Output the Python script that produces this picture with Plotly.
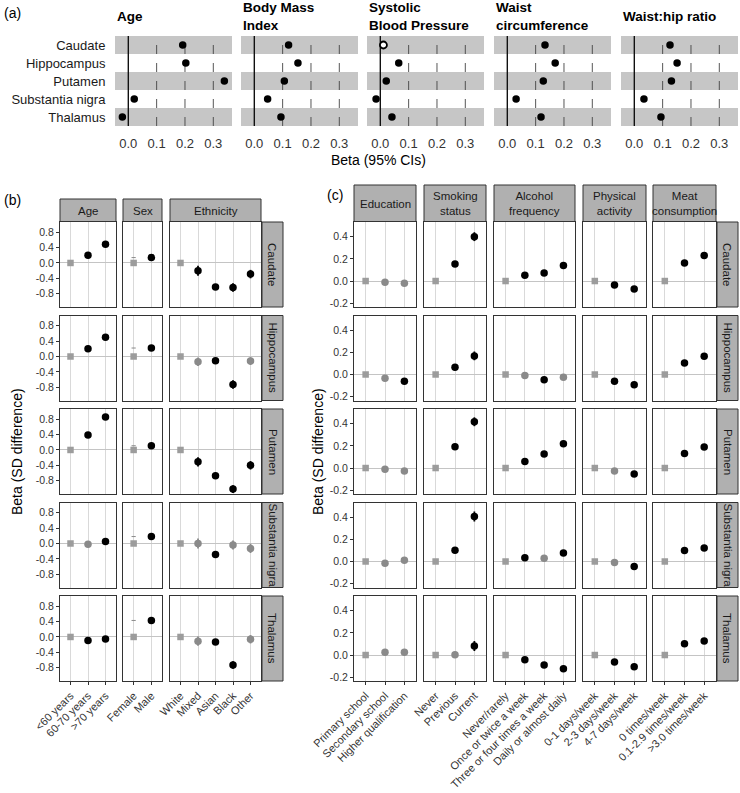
import plotly.graph_objects as go

W, H = 740, 793
FONT = "Liberation Sans, Arial, Helvetica, sans-serif"

# ---------------- data ----------------
regions = ["Caudate", "Hippocampus", "Putamen", "Substantia nigra", "Thalamus"]

# panel (a)
a_titles = ["Age", "Body Mass<br>Index", "Systolic<br>Blood Pressure", "Waist<br>circumference", "Waist:hip ratio"]
a_age = [0.192, 0.203, 0.339, 0.021, -0.021]
a_bmi = [0.121, 0.154, 0.106, 0.047, 0.094]
a_sbp = [0.011, 0.065, 0.021, -0.015, 0.041]
a_waist = [0.133, 0.169, 0.127, 0.031, 0.119]
a_whr = [0.126, 0.151, 0.131, 0.034, 0.094]
a_age_sig = [1, 1, 1, 1, 1]
a_bmi_sig = [1, 1, 1, 1, 1]
a_sbp_sig = [0, 1, 1, 1, 1]
a_waist_sig = [1, 1, 1, 1, 1]
a_whr_sig = [1, 1, 1, 1, 1]
a_ticks = [0.0, 0.1, 0.2, 0.3]
a_ticklabels = ["0.0", "0.1", "0.2", "0.3"]

# panel (b)
b_groups = ["Age", "Sex", "Ethnicity"]
b_age_levels = ["<60 years", "60-70 years", ">70 years"]
b_age_beta = [[0, 0.20, 0.49], [0, 0.20, 0.50], [0, 0.39, 0.86], [0, -0.02, 0.05], [0, -0.09, -0.05]]
b_age_ci = [[0, 0.03, 0.03], [0, 0.03, 0.03], [0, 0.03, 0.03], [0, 0.03, 0.03], [0, 0.03, 0.03]]
b_age_sig = [[0, 1, 1], [0, 1, 1], [0, 1, 1], [0, 0, 1], [0, 1, 1]]
b_sex_levels = ["Female", "Male"]
b_sex_beta = [[0, 0.14], [0, 0.22], [0, 0.11], [0, 0.18], [0, 0.43]]
b_sex_ci = [[0, 0.02], [0, 0.02], [0, 0.02], [0, 0.02], [0, 0.02]]
b_sex_sig = [[0, 1], [0, 1], [0, 1], [0, 1], [0, 1]]
b_eth_levels = ["White", "Mixed", "Asian", "Black", "Other"]
b_eth_beta = [[0, -0.20, -0.625, -0.64, -0.29],
              [0, -0.14, -0.11, -0.73, -0.12],
              [0, -0.31, -0.67, -1.02, -0.40],
              [0, 0.00, -0.29, -0.04, -0.13],
              [0, -0.11, -0.13, -0.73, -0.06]]
b_eth_ci = [[0, 0.13, 0.05, 0.11, 0.11],
            [0, 0.11, 0.05, 0.11, 0.10],
            [0, 0.12, 0.05, 0.10, 0.11],
            [0, 0.13, 0.05, 0.12, 0.12],
            [0, 0.12, 0.05, 0.10, 0.11]]
b_eth_sig = [[0, 1, 1, 1, 1], [0, 0, 1, 1, 0], [0, 1, 1, 1, 1], [0, 0, 1, 0, 0], [0, 0, 1, 1, 0]]
b_yticks = [-0.8, -0.4, 0.0, 0.4, 0.8]
b_yticklabels = ["-0.8", "-0.4", "0.0", "0.4", "0.8"]

# panel (c)
c_groups = ["Education", "Smoking<br>status", "Alcohol<br>frequency", "Physical<br>activity", "Meat<br>consumption"]
c_edu_levels = ["Primary school", "Secondary school", "Higher qualification"]
c_edu_beta = [[0, -0.010, -0.020], [0, -0.033, -0.060], [0, -0.012, -0.027], [0, -0.015, 0.012], [0, 0.024, 0.024]]
c_edu_ci = [[0, 0.025, 0.025], [0, 0.025, 0.025], [0, 0.02, 0.02], [0, 0.025, 0.025], [0, 0.025, 0.025]]
c_edu_sig = [[0, 0, 0], [0, 0, 1], [0, 0, 0], [0, 0, 0], [0, 0, 0]]
c_smk_levels = ["Never", "Previous", "Current"]
c_smk_beta = [[0, 0.153, 0.400], [0, 0.066, 0.168], [0, 0.192, 0.417], [0, 0.102, 0.405], [0, 0.003, 0.081]]
c_smk_ci = [[0, 0.01, 0.04], [0, 0.01, 0.04], [0, 0.01, 0.04], [0, 0.01, 0.045], [0, 0.01, 0.045]]
c_smk_sig = [[0, 1, 1], [0, 1, 1], [0, 1, 1], [0, 1, 1], [0, 0, 1]]
c_alc_levels = ["Never/rarely", "Once or twice a week", "Three or four times a week", "Daily or almost daily"]
c_alc_beta = [[0, 0.051, 0.072, 0.141], [0, -0.009, -0.048, -0.024], [0, 0.060, 0.126, 0.219],
              [0, 0.033, 0.030, 0.078], [0, -0.042, -0.090, -0.123]]
c_alc_ci = [[0, 0.01, 0.01, 0.015], [0, 0.01, 0.01, 0.015], [0, 0.01, 0.01, 0.015],
            [0, 0.01, 0.01, 0.015], [0, 0.01, 0.01, 0.015]]
c_alc_sig = [[0, 1, 1, 1], [0, 0, 1, 0], [0, 1, 1, 1], [0, 1, 0, 1], [0, 1, 1, 1]]
c_pa_levels = ["0-1 days/week", "2-3 days/week", "4-7 days/week"]
c_pa_beta = [[0, -0.036, -0.072], [0, -0.060, -0.093], [0, -0.027, -0.054], [0, -0.009, -0.045], [0, -0.063, -0.105]]
c_pa_ci = [[0, 0.01, 0.01], [0, 0.01, 0.01], [0, 0.01, 0.01], [0, 0.01, 0.01], [0, 0.01, 0.01]]
c_pa_sig = [[0, 1, 1], [0, 1, 1], [0, 0, 1], [0, 0, 1], [0, 1, 1]]
c_meat_levels = ["0 times/week", "0.1-2.9 times/week", ">3.0 times/week"]
c_meat_beta = [[0, 0.162, 0.231], [0, 0.105, 0.165], [0, 0.132, 0.189], [0, 0.099, 0.123], [0, 0.102, 0.126]]
c_meat_ci = [[0, 0.015, 0.015], [0, 0.015, 0.015], [0, 0.015, 0.015], [0, 0.02, 0.02], [0, 0.02, 0.02]]
c_meat_sig = [[0, 1, 1], [0, 1, 1], [0, 1, 1], [0, 1, 1], [0, 1, 1]]
c_yticks = [-0.2, 0.0, 0.2, 0.4]
c_yticklabels = ["-0.2", "0.0", "0.2", "0.4"]

# ---------------- helpers ----------------
fig = go.Figure()
layout = {}
shapes = []
annotations = []
count = [0]

DARK = "#333333"
GRID = "#D9D9D9"
ZERO = "#C4C4C4"
STRIP = "#B0B0B0"
BAND = "#C6C6C6"
REFC = "#9C9C9C"
NSC = "#8A8A8A"


def X(p):
    return p / W


def Y(p):
    return 1 - p / H


def new_axes(x0, x1, y0, y1, xcfg, ycfg):
    count[0] += 1
    k = count[0]
    s = "" if k == 1 else str(k)
    layout["xaxis" + s] = dict(domain=[X(x0), X(x1)], anchor="y" + s, automargin=False, **xcfg)
    layout["yaxis" + s] = dict(domain=[Y(y1), Y(y0)], anchor="x" + s, automargin=False, **ycfg)
    return "x" + s, "y" + s


def text(x, y, t, size, **kw):
    d = dict(x=X(x), y=Y(y), xref="paper", yref="paper", text=t, showarrow=False,
             font=dict(family=FONT, size=size, color=kw.pop("color", "black")))
    d.update(kw)
    annotations.append(d)


# ---------------- panel (a) ----------------
a_left = [115, 241, 367, 494, 621]
a_w = 117
a_top, a_bot = 36, 126
a_vals = [a_age, a_bmi, a_sbp, a_waist, a_whr]
a_sigs = [a_age_sig, a_bmi_sig, a_sbp_sig, a_waist_sig, a_whr_sig]
ypos = list(range(1, len(regions) + 1))

for j in range(5):
    xcfg = dict(range=[-0.047, 0.366], tickvals=a_ticks, ticktext=a_ticklabels,
                showgrid=False, zeroline=False, showline=False, ticks="outside", ticklen=5,
                tickcolor="rgba(0,0,0,0)", tickfont=dict(family=FONT, size=13, color=DARK))
    ycfg = dict(range=[5.5, 0.5], tickvals=ypos, ticktext=regions, showticklabels=(j == 0),
                showgrid=False, zeroline=False, showline=False,
                ticks="outside" if j == 0 else "", ticklen=6, tickcolor="rgba(0,0,0,0)",
                tickfont=dict(family=FONT, size=13, color="#1A1A1A"))
    xr, yr = new_axes(a_left[j], a_left[j] + a_w, a_top, a_bot, xcfg, ycfg)
    for i in range(0, 5, 2):
        shapes.append(dict(type="rect", xref=xr + " domain", yref=yr, x0=0, x1=1,
                           y0=ypos[i] - 0.5, y1=ypos[i] + 0.5, fillcolor=BAND,
                           line=dict(width=0), layer="below"))
    shapes.append(dict(type="line", xref=xr, yref=yr + " domain", x0=0, x1=0, y0=0, y1=1,
                       line=dict(color="#111111", width=1.4), layer="below"))
    for v in a_ticks[1:]:
        shapes.append(dict(type="line", xref=xr, yref=yr + " domain", x0=v, x1=v, y0=0, y1=1,
                           line=dict(color="#444444", width=0.9, dash="dash"), layer="below"))
    vals, sig = a_vals[j], a_sigs[j]
    xs = [v for v, s in zip(vals, sig) if s]
    ys = [p for p, s in zip(ypos, sig) if s]
    fig.add_trace(go.Scatter(x=xs, y=ys, xaxis=xr, yaxis=yr, mode="markers", showlegend=False,
                             marker=dict(symbol="circle", size=7.5, color="black")))
    xs = [v for v, s in zip(vals, sig) if not s]
    ys = [p for p, s in zip(ypos, sig) if not s]
    if xs:
        fig.add_trace(go.Scatter(x=xs, y=ys, xaxis=xr, yaxis=yr, mode="markers", showlegend=False,
                                 marker=dict(symbol="circle", size=7, color="white",
                                             line=dict(color="black", width=1.8))))
    text(a_left[j], 16, "<b>" + a_titles[j] + "</b>", 13.5, xanchor="left", yanchor="middle", align="left")

text(378, 160, "Beta (95% CIs)", 14, xanchor="center", yanchor="middle")
text(2, 13, "(a)", 14, xanchor="left", yanchor="middle")

# ---------------- facet grid helper ----------------
row_tops = [222 + 93.5 * i for i in range(5)]
row_h = 85


def facet_grid(cols, groups, yrange, yticks, yticklabels, strip_top, right_strip, strip_labels, extra=None):
    for i in range(5):
        top = row_tops[i]
        bot = top + row_h
        for j, (levels, beta, ci, sig) in enumerate(groups):
            n = len(levels)
            last = (i == 4)
            xcfg = dict(range=[0.4, n + 0.6], tickvals=list(range(1, n + 1)), ticktext=levels,
                        showticklabels=last, tickangle=-45, ticks="outside" if last else "",
                        ticklen=3, tickcolor=DARK, showgrid=True, gridcolor=GRID, gridwidth=1,
                        zeroline=False, showline=True, mirror=True, linecolor=DARK, linewidth=1,
                        tickfont=dict(family=FONT, size=11, color=DARK))
            ycfg = dict(range=yrange, tickvals=yticks, ticktext=yticklabels, showticklabels=(j == 0),
                        ticks="outside" if j == 0 else "", ticklen=3, tickcolor=DARK,
                        showgrid=False, zeroline=True, zerolinecolor=ZERO, zerolinewidth=1,
                        showline=True, mirror=True, linecolor=DARK, linewidth=1,
                        tickfont=dict(family=FONT, size=10.5, color=DARK))
            xr, yr = new_axes(cols[j][0], cols[j][1], top, bot, xcfg, ycfg)
            b = beta[i]
            c = ci[i]
            s = sig[i]
            xs = list(range(1, n + 1))
            if extra is not None and extra[0] == j:
                fig.add_trace(go.Scatter(x=[1], y=[extra[1][i][-1]], xaxis=xr, yaxis=yr, mode="markers",
                                         showlegend=False,
                                         marker=dict(symbol="line-ew", size=3,
                                                     line=dict(color=NSC, width=1))))
            fig.add_trace(go.Scatter(x=[1], y=[b[0]], xaxis=xr, yaxis=yr, mode="markers", showlegend=False,
                                     marker=dict(symbol="square", size=6.5, color=REFC)))
            for flag, col in ((0, NSC), (1, "black")):
                idx = [k for k in range(1, n) if s[k] == flag]
                if not idx:
                    continue
                fig.add_trace(go.Scatter(
                    x=[xs[k] for k in idx], y=[b[k] for k in idx], xaxis=xr, yaxis=yr,
                    mode="markers", showlegend=False,
                    marker=dict(symbol="circle", size=7.5, color=col),
                    error_y=dict(type="data", array=[c[k] for k in idx], visible=True,
                                 thickness=1.8, width=0, color=col)))
            if i == 0:
                shapes.append(dict(type="rect", xref="paper", yref="paper",
                                   x0=X(cols[j][0]), x1=X(cols[j][1]), y0=Y(top - 0.5), y1=Y(strip_top),
                                   fillcolor=STRIP, line=dict(color=DARK, width=1), layer="above"))
                text((cols[j][0] + cols[j][1]) / 2, (strip_top + top) / 2, strip_labels[j], 11.5,
                     color="#1A1A1A", xanchor="center", yanchor="middle")
        shapes.append(dict(type="rect", xref="paper", yref="paper",
                           x0=X(right_strip[0]), x1=X(right_strip[1]), y0=Y(bot), y1=Y(top),
                           fillcolor=STRIP, line=dict(color=DARK, width=1), layer="above"))
        text((right_strip[0] + right_strip[1]) / 2, (top + bot) / 2, regions[i], 11.5,
             color="#1A1A1A", xanchor="center", yanchor="middle", textangle=90)


# ---------------- panel (b) ----------------
b_cols = [(60, 116), (123, 162), (170, 261)]
facet_grid(b_cols,
           [(b_age_levels, b_age_beta, b_age_ci, b_age_sig),
            (b_sex_levels, b_sex_beta, b_sex_ci, b_sex_sig),
            (b_eth_levels, b_eth_beta, b_eth_ci, b_eth_sig)],
           [-1.147, 1.067], b_yticks, b_yticklabels, 199, (262, 283), b_groups,
           extra=(1, b_sex_beta))
text(17, 452, "Beta (SD difference)", 14, xanchor="center", yanchor="middle", textangle=-90)
text(2, 200, "(b)", 14, xanchor="left", yanchor="middle")

# ---------------- panel (c) ----------------
c_cols = [(354, 416), (424, 486), (494, 575), (583, 646), (653, 716)]
facet_grid(c_cols,
           [(c_edu_levels, c_edu_beta, c_edu_ci, c_edu_sig),
            (c_smk_levels, c_smk_beta, c_smk_ci, c_smk_sig),
            (c_alc_levels, c_alc_beta, c_alc_ci, c_alc_sig),
            (c_pa_levels, c_pa_beta, c_pa_ci, c_pa_sig),
            (c_meat_levels, c_meat_beta, c_meat_ci, c_meat_sig)],
           [-0.234, 0.532], c_yticks, c_yticklabels, 185, (717, 738), c_groups)
text(318, 452, "Beta (SD difference)", 14, xanchor="center", yanchor="middle", textangle=-90)
text(325, 195, "(c)", 14, xanchor="left", yanchor="middle")

fig.update_layout(template="none", width=W, height=H, autosize=False,
                  margin=dict(l=0, r=0, t=0, b=0, autoexpand=False),
                  paper_bgcolor="white", plot_bgcolor="white",
                  font=dict(family=FONT, color="black"),
                  shapes=shapes, annotations=annotations, **layout)

fig.write_html("out.html")
